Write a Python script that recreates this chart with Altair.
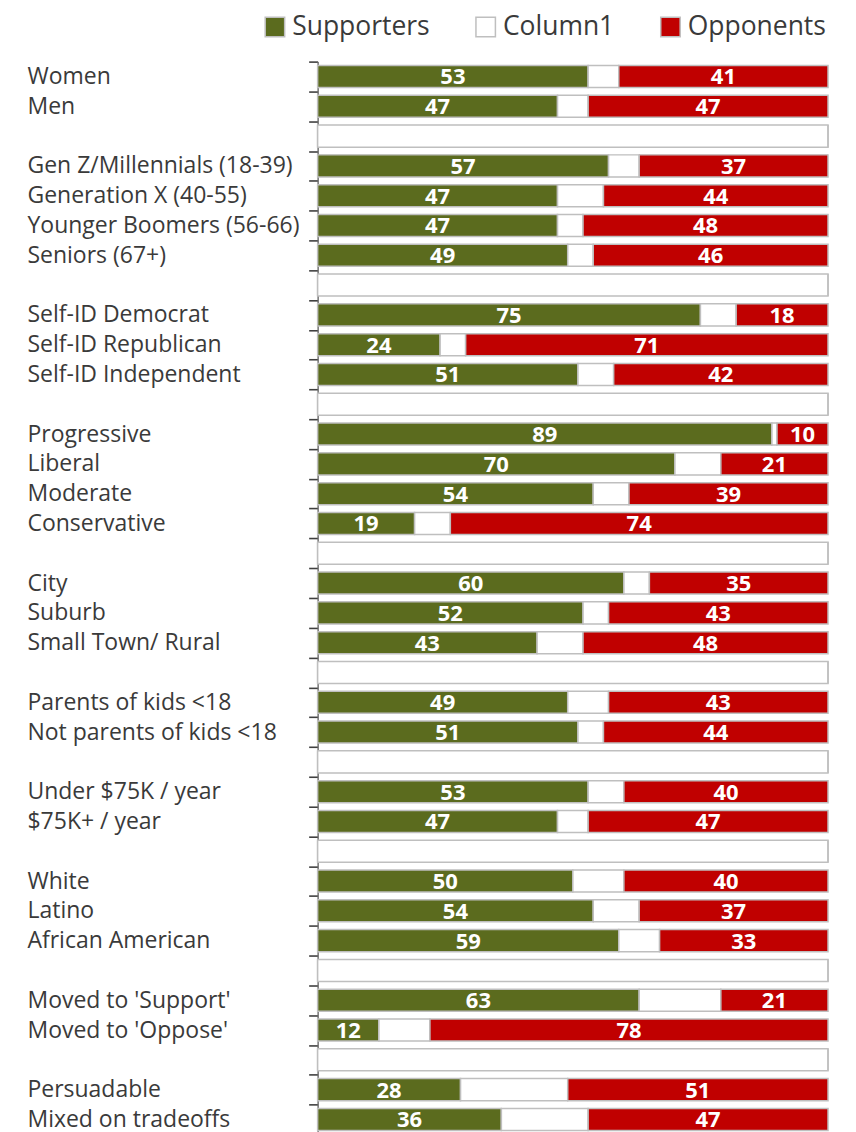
import altair as alt
import pandas as pd

categories = [
    "Women", "Men", " ",
    "Gen Z/Millennials (18-39)", "Generation X (40-55)", "Younger Boomers (56-66)", "Seniors (67+)", "  ",
    "Self-ID Democrat", "Self-ID Republican", "Self-ID Independent", "   ",
    "Progressive", "Liberal", "Moderate", "Conservative", "    ",
    "City", "Suburb", "Small Town/ Rural", "     ",
    "Parents of kids <18", "Not parents of kids <18", "      ",
    "Under $75K / year", "$75K+ / year", "       ",
    "White", "Latino", "African American", "        ",
    "Moved to 'Support'", "Moved to 'Oppose'", "         ",
    "Persuadable", "Mixed on tradeoffs",
]
supporters = [53, 47, 0,
              57, 47, 47, 49, 0,
              75, 24, 51, 0,
              89, 70, 54, 19, 0,
              60, 52, 43, 0,
              49, 51, 0,
              53, 47, 0,
              50, 54, 59, 0,
              63, 12, 0,
              28, 36]
opponents = [41, 47, 0,
             37, 44, 48, 46, 0,
             18, 71, 42, 0,
             10, 21, 39, 74, 0,
             35, 43, 48, 0,
             43, 44, 0,
             40, 47, 0,
             40, 37, 33, 0,
             21, 78, 0,
             51, 47]
series = ["Supporters", "Column1", "Opponents"]
colors = ["#5b6b1e", "#ffffff", "#c00000"]

rows = []
for c, s, o in zip(categories, supporters, opponents):
    rows.append({"cat": c, "series": "Supporters", "ord": 0, "value": s})
    rows.append({"cat": c, "series": "Column1", "ord": 1, "value": 100 - s - o})
    rows.append({"cat": c, "series": "Opponents", "ord": 2, "value": o})
df = pd.DataFrame(rows)

FONT = "Open Sans"
TXT = "#3a3a3a"

yenc = alt.Y(
    "cat:N", sort=categories,
    scale=alt.Scale(paddingInner=0, paddingOuter=0),
    axis=alt.Axis(
        title=None, labelAlign="left", labelPadding=282, tickSize=9,
        ticks=True, tickWidth=1.6, domainWidth=1.4,
        tickBand="extent", domainColor="#6a6a6a", tickColor="#404040",
        labelFont=FONT, labelFontSize=23, labelColor=TXT, grid=False,
        labelLimit=400, labelOverlap=False,
    ),
)
xscale = alt.Scale(domain=[0, 100], nice=False, zero=True)

bars = alt.Chart(df).mark_bar(
    height=alt.RelativeBandSize(band=0.74), stroke="#bfbfbf", strokeWidth=1.5
).encode(
    y=yenc,
    x=alt.X("value:Q", stack="zero", scale=xscale, axis=None),
    color=alt.Color(
        "series:N", sort=series,
        scale=alt.Scale(domain=series, range=colors),
        legend=alt.Legend(
            title=None, orient="none", legendX=-56, legendY=-48,
            direction="horizontal", columns=3, symbolType="square",
            symbolSize=380, symbolStrokeColor="#bfbfbf", symbolStrokeWidth=1.5,
            symbolOpacity=1, labelFont=FONT, labelFontSize=26.5, labelColor=TXT,
            labelOffset=4, columnPadding=42, padding=0,
        ),
    ),
    order=alt.Order("ord:Q"),
)

labels = alt.Chart(df).transform_stack(
    stack="value", groupby=["cat"], as_=["x0", "x1"],
    sort=[alt.SortField("ord", order="ascending")],
).transform_calculate(
    mid="(datum.x0 + datum.x1) / 2"
).transform_filter(
    "datum.series != 'Column1' && datum.value > 0"
).mark_text(
    font=FONT, fontSize=22, fontWeight="bold", color="white", dy=1
).encode(
    y=alt.Y("cat:N", sort=categories),
    x=alt.X("mid:Q", scale=xscale, axis=None),
    text=alt.Text("value:Q"),
)

chart = alt.layer(bars, labels).properties(
    width=511, height=1074, autosize="none",
    padding={"left": 310, "top": 53, "right": 20, "bottom": 0},
).configure_view(strokeWidth=0)

chart.save("out.html", embed_options={"renderer": "svg", "actions": False})
